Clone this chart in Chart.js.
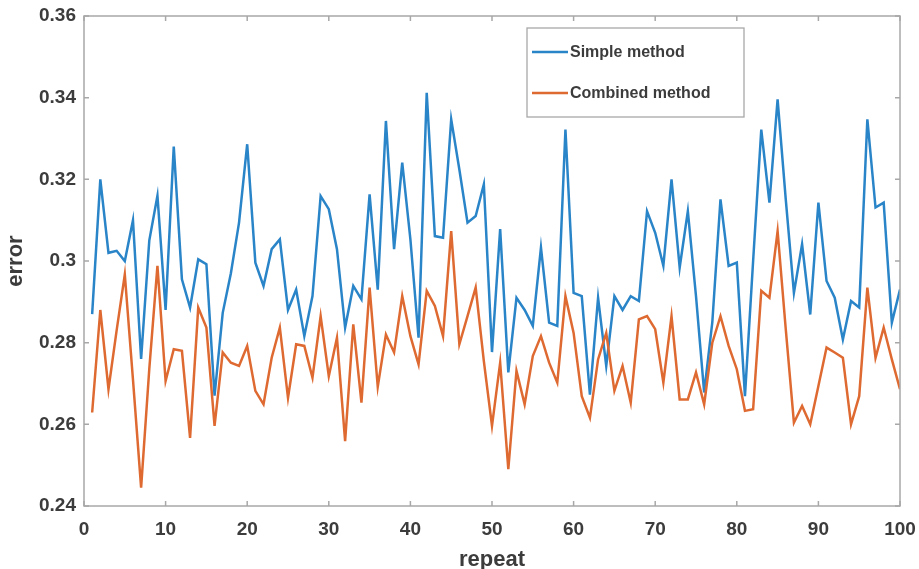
<!DOCTYPE html>
<html><head><meta charset="utf-8">
<script src="https://cdn.jsdelivr.net/npm/chart.js@4.4.1/dist/chart.umd.min.js"></script>
<style>html,body{margin:0;padding:0;background:#fff;}#wrap{width:919px;height:569px;}</style>
</head><body><div id="wrap"><canvas id="c" width="919" height="569"></canvas></div>
<script>
const repeats = [1,2,3,4,5,6,7,8,9,10,11,12,13,14,15,16,17,18,19,20,21,22,23,24,25,26,27,28,29,30,31,32,33,34,35,36,37,38,39,40,41,42,43,44,45,46,47,48,49,50,51,52,53,54,55,56,57,58,59,60,61,62,63,64,65,66,67,68,69,70,71,72,73,74,75,76,77,78,79,80,81,82,83,84,85,86,87,88,89,90,91,92,93,94,95,96,97,98,99,100];
const simpleMethod = [0.287,0.320,0.302,0.3025,0.300,0.310,0.276,0.305,0.316,0.288,0.328,0.2955,0.2886,0.3004,0.2992,0.267,0.2873,0.297,0.3094,0.3286,
0.2996,0.2939,0.3029,0.3053,0.288,0.293,0.2816,0.2914,0.3159,0.3127,0.3029,0.2837,0.2939,0.2906,0.3163,0.293,0.3343,0.3029,0.3241,0.3053,
0.2812,0.3412,0.3061,0.3057,0.3347,0.3224,0.3094,0.311,0.3188,0.2777,0.3078,0.2727,0.291,0.288,0.2841,0.3033,0.2849,0.2841,0.3322,0.2922,
0.2914,0.2673,0.291,0.2743,0.2914,0.288,0.2914,0.2902,0.3122,0.3069,0.2988,0.320,0.2984,0.3122,0.2914,0.2678,0.285,0.3151,0.2988,0.2996,
0.2669,0.300,0.3322,0.3143,0.3396,0.3151,0.2922,0.3041,0.2869,0.3143,0.2951,0.291,0.2808,0.2902,0.2886,0.3347,0.3131,0.3143,0.2849,0.293];
const combinedMethod = [0.2629,0.288,0.2686,0.283,0.2967,0.271,0.2445,0.2735,0.2988,0.2706,0.2784,0.278,0.2567,0.2886,0.2837,0.2596,0.2776,0.2751,0.2743,0.2792,
0.2682,0.2649,0.2763,0.2837,0.2665,0.2796,0.2792,0.2714,0.2865,0.2718,0.2812,0.2559,0.2845,0.2653,0.2935,0.2692,0.282,0.2776,0.2914,0.2816,
0.2747,0.2927,0.289,0.2816,0.3073,0.2796,0.2865,0.2935,0.2755,0.2596,0.2751,0.249,0.2731,0.2649,0.2767,0.2816,0.2751,0.2702,0.2914,0.2824,
0.2669,0.2616,0.2759,0.2824,0.2682,0.2743,0.2653,0.2857,0.2865,0.2833,0.2702,0.2865,0.2661,0.2661,0.2727,0.2649,0.280,0.2865,0.2792,0.2735,
0.2633,0.2637,0.2927,0.291,0.3073,0.2833,0.2604,0.2645,0.260,0.2694,0.2788,0.2776,0.2763,0.260,0.2669,0.2935,0.2763,0.2837,0.2759,0.2686];
const xTicks = [0,10,20,30,40,50,60,70,80,90,100];
const yTicks = [0.24,0.26,0.28,0.30,0.32,0.34,0.36];
const seriesNames = ['Simple method','Combined method'];

const textColor = '#3c3c3c';
const axisColor = '#a8a8a8';
const blue = '#2a84c8';
const orange = '#de6a32';

const boxPlugin = {
  id: 'boxPlugin',
  afterDraw(chart) {
    const ctx = chart.ctx, a = chart.chartArea;
    const xs = chart.scales.x, ys = chart.scales.y;
    ctx.save();
    ctx.strokeStyle = axisColor;
    ctx.lineWidth = 1.5;
    ctx.strokeRect(a.left, a.top, a.right - a.left, a.bottom - a.top);
    const t = 5;
    ctx.beginPath();
    xTicks.forEach(v => {
      const px = xs.getPixelForValue(v);
      ctx.moveTo(px, a.bottom); ctx.lineTo(px, a.bottom - t);
      ctx.moveTo(px, a.top); ctx.lineTo(px, a.top + t);
    });
    yTicks.forEach(v => {
      const py = ys.getPixelForValue(v);
      ctx.moveTo(a.left, py); ctx.lineTo(a.left + t, py);
      ctx.moveTo(a.right, py); ctx.lineTo(a.right - t, py);
    });
    ctx.stroke();
    // legend
    const lx = 527, ly = 28, lw = 217, lh = 89;
    ctx.fillStyle = '#fff';
    ctx.fillRect(lx, ly, lw, lh);
    ctx.strokeStyle = axisColor;
    ctx.lineWidth = 1.3;
    ctx.strokeRect(lx, ly, lw, lh);
    const rows = [52, 93];
    ctx.font = 'bold 16px "Liberation Sans", Arial, sans-serif';
    ctx.textBaseline = 'middle';
    ctx.textAlign = 'left';
    chart.data.datasets.forEach((ds, i) => {
      ctx.strokeStyle = ds.borderColor;
      ctx.lineWidth = 2.5;
      ctx.beginPath();
      ctx.moveTo(532, rows[i]); ctx.lineTo(568, rows[i]);
      ctx.stroke();
      ctx.fillStyle = textColor;
      ctx.fillText(ds.label, 570, rows[i] + 1);
    });
    ctx.restore();
  }
};

const tickFont = {family: '"Liberation Sans", Arial, sans-serif', size: 19, weight: 'bold'};
const titleFont = {family: '"Liberation Sans", Arial, sans-serif', size: 22, weight: 'bold'};

new Chart(document.getElementById('c'), {
  type: 'line',
  data: {
    datasets: [
      {label: seriesNames[0], data: repeats.map((r, i) => ({x: r, y: simpleMethod[i]})), borderColor: blue, borderWidth: 2.5, pointRadius: 0, tension: 0, order: 1},
      {label: seriesNames[1], data: repeats.map((r, i) => ({x: r, y: combinedMethod[i]})), borderColor: orange, borderWidth: 2.5, pointRadius: 0, tension: 0, order: 0}
    ]
  },
  options: {
    responsive: false,
    animation: false,
    layout: {padding: {top: 16, right: 19, left: 0, bottom: 0}},
    plugins: {legend: {display: false}, tooltip: {enabled: false}},
    scales: {
      x: {
        type: 'linear', min: 0, max: 100,
        afterBuildTicks: s => { s.ticks = xTicks.map(v => ({value: v})); },
        afterFit: s => { s.height = 63; s.paddingLeft = 0; s.paddingRight = 0; },
        grid: {display: false, drawTicks: false},
        border: {display: false},
        ticks: {font: tickFont, color: textColor, padding: 12, maxRotation: 0, autoSkip: false},
        title: {display: true, text: 'repeat', font: titleFont, color: textColor, padding: {top: 4, bottom: -4}}
      },
      y: {
        type: 'linear', min: 0.24, max: 0.36,
        afterBuildTicks: s => { s.ticks = yTicks.map(v => ({value: v})); },
        afterFit: s => { s.width = 84; s.paddingTop = 0; s.paddingBottom = 0; },
        grid: {display: false, drawTicks: false},
        border: {display: false},
        ticks: {font: tickFont, color: textColor, padding: 8, autoSkip: false,
          callback: v => String(Math.round(v * 100) / 100)},
        title: {display: true, text: 'error', font: titleFont, color: textColor, padding: {top: 3, bottom: 0}}
      }
    }
  },
  plugins: [boxPlugin]
});
</script>
</body></html>
